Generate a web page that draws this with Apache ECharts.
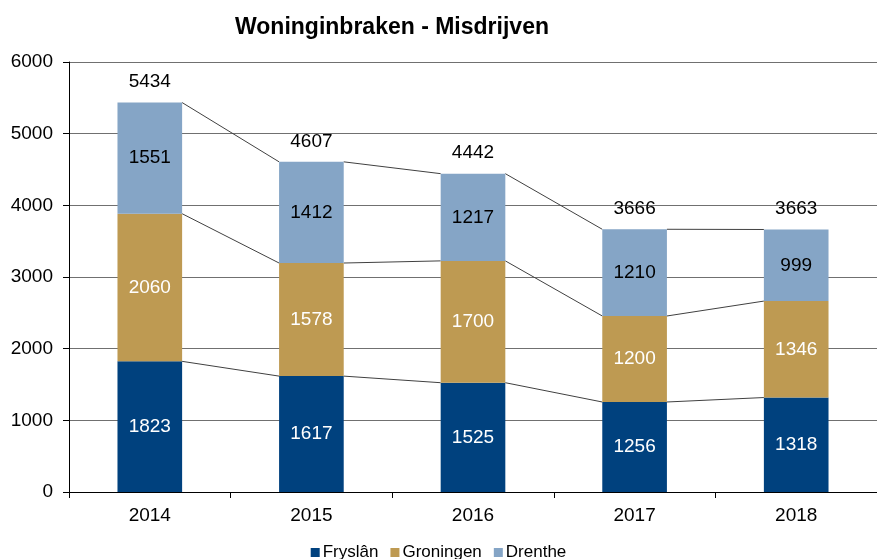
<!DOCTYPE html>
<html>
<head>
<meta charset="utf-8">
<script src="https://cdn.jsdelivr.net/npm/echarts@6/dist/echarts.min.js"></script>
<style>
  html, body { margin: 0; padding: 0; background: #fff; }
  #chart { width: 877px; height: 559px; }
</style>
</head>
<body>
<div id="chart"></div>
<script>
const years = ['2014', '2015', '2016', '2017', '2018']
const fryslan = [1823, 1617, 1525, 1256, 1318]
const groningen = [2060, 1578, 1700, 1200, 1346]
const drenthe = [1551, 1412, 1217, 1210, 999]
const totals = [5434, 4607, 4442, 3666, 3663]
const yTicks = [0, 1000, 2000, 3000, 4000, 5000, 6000]

const font = 'Liberation Sans, Arial, sans-serif'
const barRatio = 0.4

// stack tops for the connector lines between bars
let level1 = fryslan.slice()
let level2 = fryslan.map((v, i) => v + groningen[i])
let level3 = level2.map((v, i) => v + drenthe[i])
let connectors = []
;[level1, level2, level3].forEach(lv => {
  for (let i = 0; i < years.length - 1; i++) {
    connectors.push([i, lv[i], lv[i + 1]])
  }
})

let myChart = echarts.init(document.getElementById('chart'))
myChart.setOption({
  animation: false,
  textStyle: { fontFamily: font },
  title: {
    text: 'Woninginbraken - Misdrijven',
    left: 387,
    top: 11,
    textAlign: 'center',
    textStyle: { fontSize: 23, fontWeight: 'bold', color: '#000', fontFamily: font }
  },
  legend: {
    data: ['Fryslân', 'Groningen', 'Drenthe'],
    bottom: -7,
    left: 'center',
    itemWidth: 9,
    itemHeight: 9,
    itemGap: 12,
    icon: 'rect',
    textStyle: { fontSize: 17, color: '#000', fontFamily: font, padding: [0, 0, 0, -2] }
  },
  grid: {
    left: 69,
    right: -11,
    top: 62,
    bottom: 67
  },
  xAxis: {
    type: 'category',
    data: years,
    axisLine: { lineStyle: { color: '#000', width: 1 } },
    axisTick: { show: true, length: 6, lineStyle: { color: '#000' } },
    axisLabel: { fontSize: 19, color: '#000', margin: 14, fontFamily: font }
  },
  yAxis: {
    type: 'value',
    min: yTicks[0],
    max: yTicks[yTicks.length - 1],
    interval: 1000,
    axisLine: { show: true, lineStyle: { color: '#000', width: 1 } },
    axisTick: { show: true, length: 6, lineStyle: { color: '#000' } },
    axisLabel: { fontSize: 19, color: '#000', margin: 16, fontFamily: font, formatter: v => String(v) },
    splitLine: { show: true, lineStyle: { color: '#707070', width: 1 } }
  },
  series: [
    {
      name: 'Fryslân',
      type: 'bar',
      stack: 'total',
      barWidth: (barRatio * 100) + '%',
      itemStyle: { color: '#00417E' },
      label: { show: true, position: 'inside', color: '#fff', fontSize: 19, fontFamily: font },
      data: fryslan
    },
    {
      name: 'Groningen',
      type: 'bar',
      stack: 'total',
      itemStyle: { color: '#BE9A52' },
      label: { show: true, position: 'inside', color: '#fff', fontSize: 19, fontFamily: font },
      data: groningen
    },
    {
      name: 'Drenthe',
      type: 'bar',
      stack: 'total',
      itemStyle: { color: '#85A5C6' },
      label: { show: true, position: 'inside', color: '#000', fontSize: 19, fontFamily: font },
      data: drenthe
    },
    {
      name: 'Totaal',
      type: 'scatter',
      symbolSize: 0,
      itemStyle: { opacity: 1 },
      label: { show: true, position: 'top', distance: 11, color: '#000', fontSize: 19, fontFamily: font },
      data: totals
    },
    {
      name: 'lijnen',
      type: 'custom',
      silent: true,
      z: 1,
      encode: { x: 0, y: 1 },
      renderItem (params, api) {
        let i = api.value(0)
        let w = api.size([1, 0])[0] * barRatio
        let p0 = api.coord([i, api.value(1)])
        let p1 = api.coord([i + 1, api.value(2)])
        return {
          type: 'line',
          shape: { x1: p0[0] + w / 2, y1: p0[1], x2: p1[0] - w / 2, y2: p1[1] },
          style: { stroke: '#404040', lineWidth: 1 }
        }
      },
      data: connectors
    }
  ]
})
</script>
</body>
</html>
